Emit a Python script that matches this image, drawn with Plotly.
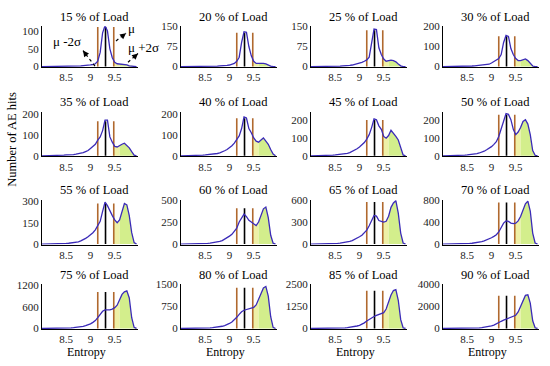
import plotly.graph_objects as go

# ---------------- data ----------------
entropy_bins = [8.00, 8.05, 8.10, 8.15, 8.20, 8.25, 8.30, 8.35, 8.40, 8.45,
                8.50, 8.55, 8.60, 8.65, 8.70, 8.75, 8.80, 8.85, 8.90, 8.95,
                9.00, 9.05, 9.10, 9.15, 9.20, 9.25, 9.30, 9.35, 9.40, 9.45,
                9.50, 9.55, 9.60, 9.65, 9.70, 9.75, 9.80, 9.85, 9.90, 9.95]

load_labels = ["15 % of Load", "20 % of Load", "25 % of Load", "30 % of Load",
               "35 % of Load", "40 % of Load", "45 % of Load", "50 % of Load",
               "55 % of Load", "60 % of Load", "65 % of Load", "70 % of Load",
               "75 % of Load", "80 % of Load", "85 % of Load", "90 % of Load"]

hits_15 = [0, 0, 0, 0, 0, 0, 0, 1, 1, 1, 1, 1, 1, 1, 2, 2, 2, 3, 3, 4,
           5, 6, 8, 15, 40, 95, 115, 100, 50, 25, 12, 8, 7, 8, 6, 5, 2, 1, 0, 0]
hits_20 = [0, 0, 0, 0, 0, 0, 0, 0, 1, 1, 1, 1, 1, 2, 2, 2, 3, 3, 4, 5,
           6, 8, 12, 20, 35, 90, 130, 128, 75, 40, 20, 12, 12, 14, 12, 10, 5, 2, 0, 0]
hits_25 = [0, 0, 0, 0, 0, 0, 1, 1, 1, 1, 2, 2, 2, 3, 3, 4, 5, 6, 8, 10,
           12, 16, 20, 25, 35, 90, 140, 138, 70, 45, 28, 20, 22, 24, 22, 18, 10, 3, 0, 0]
hits_30 = [0, 0, 0, 0, 1, 1, 1, 1, 2, 2, 2, 3, 3, 4, 5, 6, 7, 8, 10, 12,
           18, 25, 35, 40, 60, 120, 155, 150, 90, 60, 40, 30, 30, 34, 38, 30, 15, 3, 0, 0]
hits_35 = [0, 0, 0, 1, 1, 1, 2, 2, 3, 3, 4, 4, 5, 6, 8, 10, 12, 15, 20, 25,
           35, 45, 55, 75, 90, 120, 170, 170, 90, 65, 45, 42, 50, 55, 60, 50, 38, 20, 3, 0]
hits_40 = [0, 0, 0, 1, 1, 1, 2, 2, 3, 3, 4, 5, 6, 7, 9, 11, 14, 18, 24, 30,
           38, 48, 60, 75, 95, 130, 185, 180, 130, 110, 85, 70, 65, 75, 85, 70, 55, 30, 8, 0]
hits_45 = [0, 0, 0, 1, 1, 1, 2, 2, 3, 4, 5, 6, 7, 9, 11, 14, 18, 24, 32, 40,
           50, 60, 75, 95, 120, 160, 210, 205, 170, 150, 110, 100, 115, 145, 130, 110, 90, 40, 5, 0]
hits_50 = [0, 0, 1, 1, 1, 2, 2, 3, 3, 4, 5, 6, 8, 10, 13, 16, 20, 26, 34, 42,
           52, 65, 80, 110, 150, 200, 240, 235, 205, 150, 120, 135, 160, 195, 205, 180, 120, 30, 3, 0]
hits_55 = [0, 0, 0, 1, 1, 1, 2, 3, 3, 4, 5, 6, 8, 10, 13, 16, 22, 30, 40, 52,
           65, 80, 100, 130, 160, 230, 295, 270, 230, 200, 170, 150, 170, 220, 285, 275, 200, 80, 10, 0]
hits_60 = [0, 0, 0, 1, 1, 2, 2, 3, 4, 5, 6, 8, 10, 13, 17, 22, 30, 40, 55, 70,
           90, 110, 140, 180, 250, 300, 340, 310, 270, 250, 230, 210, 250, 330, 400, 420, 300, 100, 10, 0]
hits_65 = [0, 0, 0, 1, 1, 2, 3, 4, 5, 6, 8, 10, 13, 17, 22, 28, 36, 48, 62, 80,
           100, 120, 150, 190, 250, 330, 390, 380, 320, 310, 300, 310, 380, 500, 560, 590, 420, 150, 15, 0]
hits_70 = [0, 0, 0, 1, 1, 2, 3, 4, 5, 7, 9, 12, 15, 20, 26, 34, 44, 58, 75, 95,
           115, 140, 170, 220, 300, 380, 420, 410, 380, 370, 380, 420, 500, 620, 730, 780, 600, 200, 20, 0]
hits_75 = [0, 0, 0, 1, 1, 2, 3, 4, 6, 8, 10, 13, 17, 22, 28, 36, 46, 60, 80, 100,
           130, 170, 220, 300, 400, 480, 520, 510, 520, 540, 580, 650, 800, 950, 1020, 1050, 850, 300, 30, 0]
hits_80 = [0, 0, 1, 1, 2, 3, 4, 5, 7, 9, 12, 15, 20, 26, 34, 44, 57, 75, 100, 130,
           170, 220, 290, 380, 480, 570, 620, 640, 660, 680, 720, 800, 980, 1200, 1380, 1430, 1100, 400, 40, 0]
hits_85 = [0, 0, 1, 1, 2, 3, 4, 6, 8, 10, 13, 17, 22, 28, 36, 46, 60, 80, 105, 140,
           180, 240, 320, 420, 520, 600, 680, 740, 780, 820, 900, 1100, 1500, 1900, 2150, 2200, 1600, 500, 40, 0]
hits_90 = [0, 0, 1, 1, 2, 3, 5, 7, 10, 13, 17, 22, 28, 36, 46, 60, 80, 105, 140, 180,
           240, 310, 400, 520, 650, 750, 850, 930, 1000, 1080, 1200, 1500, 2000, 2600, 3000, 3050, 2300, 700, 60, 0]

all_hits = [hits_15, hits_20, hits_25, hits_30, hits_35, hits_40, hits_45, hits_50,
            hits_55, hits_60, hits_65, hits_70, hits_75, hits_80, hits_85, hits_90]

y_tops = [113, 150, 150, 200, 210, 210, 250, 250, 310, 500, 600, 800, 1230, 1500, 2500, 4000]
y_tick_vals = [[0, 50, 100], [0, 75, 150], [0, 75, 150], [0, 100, 200],
               [0, 100, 200], [0, 100, 200], [0, 100, 200], [0, 100, 200],
               [0, 150, 300], [0, 250, 500], [0, 300, 600], [0, 400, 800],
               [0, 600, 1200], [0, 750, 1500], [0, 1250, 2500], [0, 2000, 4000]]
x_tick_vals = [8.5, 9, 9.5]
x_tick_text = ["8.5", "9", "9.5"]

mu_value = 9.31
mu_minus_2sigma = 9.15
mu_plus_2sigma = 9.48
green_start = 9.60

# ---------------- layout helpers ----------------
W, H = 550, 366
col_x0 = [42, 181, 311, 443]
col_w = 96
row_top = [21, 109, 200, 287]
row_bot = [63, 155, 246, 333]
FONT = "Liberation Serif, Times New Roman, serif"
BLUE = "#3b2bb8"
BROWN = "#b0692e"


def px(x):
    return x / W


def py(y):
    return 1 - y / H


def interp(vals, x):
    # position on the drawn outline (linear between bin points)
    for i in range(len(entropy_bins) - 1):
        a, b = entropy_bins[i], entropy_bins[i + 1]
        if a - 1e-9 <= x <= b + 1e-9:
            t = (x - a) / (b - a)
            return vals[i] + t * (vals[i + 1] - vals[i])
    return vals[-1]


def segment(vals, x0, x1):
    xs = [x0] + [b for b in entropy_bins if x0 + 1e-9 < b < x1 - 1e-9] + [x1]
    ys = [interp(vals, x) for x in xs]
    return xs, ys


fig = go.Figure()
annotations = []

for k, vals in enumerate(all_hits):
    r, c = divmod(k, 4)
    sfx = "" if k == 0 else str(k + 1)
    xa, ya = "x" + sfx, "y" + sfx

    # fills beyond mu + 2 sigma
    xs, ys = segment(vals, mu_plus_2sigma, green_start)
    fig.add_trace(go.Scatter(x=xs, y=ys, xaxis=xa, yaxis=ya, mode="lines",
                             line=dict(width=0), fill="tozeroy",
                             fillcolor="#eef0a6", hoverinfo="skip"))
    xs, ys = segment(vals, green_start, entropy_bins[-1])
    fig.add_trace(go.Scatter(x=xs, y=ys, xaxis=xa, yaxis=ya, mode="lines",
                             line=dict(width=0), fill="tozeroy",
                             fillcolor="#d3ee8c", hoverinfo="skip"))

    # mu and mu +/- 2 sigma lines
    h = max(vals) * 0.97
    for xv, col in [(mu_minus_2sigma, BROWN), (mu_plus_2sigma, BROWN), (mu_value, "black")]:
        fig.add_trace(go.Scatter(x=[xv, xv], y=[0, h], xaxis=xa, yaxis=ya, mode="lines",
                                 line=dict(color=col, width=1.6), hoverinfo="skip"))

    # histogram outline
    fig.add_trace(go.Scatter(x=entropy_bins, y=vals, xaxis=xa, yaxis=ya, mode="lines",
                             line=dict(color=BLUE, width=1.3), hoverinfo="skip"))

    top = y_tops[k]
    fig.layout["xaxis" + sfx] = dict(
        domain=[px(col_x0[c]), px(col_x0[c] + col_w)], anchor=ya,
        range=[8.0, 9.98], tickvals=x_tick_vals, ticktext=x_tick_text,
        showline=True, linecolor="black", linewidth=1, ticks="",
        showgrid=False, zeroline=False,
        tickfont=dict(family=FONT, size=11, color="#222"))
    fig.layout["yaxis" + sfx] = dict(
        domain=[py(row_bot[r]), py(row_top[r])], anchor=xa,
        range=[-0.012 * top, top], tickvals=y_tick_vals[k],
        showline=True, linecolor="black", linewidth=1, ticks="",
        showgrid=False, zeroline=False,
        tickfont=dict(family=FONT, size=11, color="#222"))

    annotations.append(dict(text=load_labels[k], xref="paper", yref="paper",
                            x=px(col_x0[c] + col_w / 2 + 4), y=py(row_top[r] - 10),
                            showarrow=False, xanchor="center", yanchor="middle",
                            font=dict(family=FONT, size=12.5, color="black")))
    if r == 3:
        annotations.append(dict(text="Entropy", xref="paper", yref="paper",
                                x=px(col_x0[c] + col_w / 2 - 4), y=py(357),
                                showarrow=False, xanchor="center", yanchor="middle",
                                font=dict(family=FONT, size=12, color="black")))

annotations.append(dict(text="Number of AE hits", xref="paper", yref="paper",
                        x=px(12), y=py(138), textangle=-90, showarrow=False,
                        xanchor="center", yanchor="middle",
                        font=dict(family=FONT, size=12.5, color="black")))

# labels with dashed arrows on the first panel
arrow_specs = [("μ -2σ", (67, 37), (95, 62), (83, 46)),
               ("μ", (131, 23), (116, 36), (126, 28)),
               ("μ +2σ", (143, 43), (128, 58), (138, 49))]
shapes = []
for txt, (tx, ty), (x0, y0), (x1, y1) in arrow_specs:
    annotations.append(dict(text=txt, xref="paper", yref="paper", x=px(tx), y=py(ty),
                            showarrow=False, xanchor="center", yanchor="middle",
                            font=dict(family=FONT, size=13, color="black")))
    shapes.append(dict(type="line", xref="paper", yref="paper",
                       x0=px(x0), y0=py(y0), x1=px(x1), y1=py(y1),
                       line=dict(color="black", width=1.2, dash="dot")))
    annotations.append(dict(text="", xref="paper", yref="paper", axref="pixel", ayref="pixel",
                            x=px(x1), y=py(y1), ax=(x0 - x1) * 0.3, ay=(y0 - y1) * 0.3,
                            showarrow=True, arrowhead=2, arrowsize=1, arrowwidth=1.2,
                            arrowcolor="black"))

fig.update_layout(width=W, height=H, margin=dict(l=0, r=0, t=0, b=0),
                  paper_bgcolor="white", plot_bgcolor="white", showlegend=False,
                  annotations=annotations, shapes=shapes,
                  font=dict(family=FONT))

fig.write_html("out.html", config={"displayModeBar": False},
               post_script="document.body.style.margin='0';")
